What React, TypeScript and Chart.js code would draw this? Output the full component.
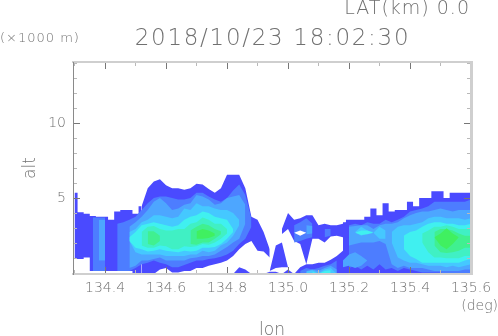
import React, { useEffect, useRef } from "react";
import { Chart, registerables } from "chart.js";

Chart.register(...registerables);

const LON = [
  134.3, 134.32, 134.34, 134.36, 134.38, 134.4, 134.42, 134.44, 134.46, 134.48, 134.5,
  134.52, 134.54, 134.56, 134.58, 134.6, 134.62, 134.64, 134.66, 134.68, 134.7, 134.72,
  134.74, 134.76, 134.78, 134.8, 134.82, 134.84, 134.86, 134.88, 134.9, 134.92, 134.94,
  134.96, 134.98, 135.0, 135.02, 135.04, 135.06, 135.08, 135.1, 135.12, 135.14, 135.16,
  135.18, 135.2, 135.22, 135.24, 135.26, 135.28, 135.3, 135.32, 135.34, 135.36, 135.38,
  135.4, 135.42, 135.44, 135.46, 135.48, 135.5, 135.52, 135.54, 135.56, 135.58, 135.6,
];

const COLORS = ["#4a4aff", "#4d7dff", "#4da6ff", "#45c8ff", "#40f0f0", "#40f0c4", "#40f090", "#40f060", "#ffffff"];

// level 1 (weakest echo)
const L1_BLOCK_TOP = [5.4,4.1,4.0,3.85,3.8,3.8,3.6,4.15,4.25,4.25,4.0,4.5];
const L1_BLOCK_BOT = [1.0,1.0,1.1,0.2,0.2,0.2,0.2,0.2,0.2,0.2,0,0];
const L1_WEST_TOP = [4.5,5.7,6.15,6.3,5.9,5.7,5.7,5.6,5.7,6.0,5.95,5.65,5.4,5.7,6.6,6.6,6.6,5.7,3.8,3.6,2.8,1.65];
const L1_WEST_BOT = [0,0,0,0.3,0.4,0.1,0.1,0.2,0.2,0.4,0.4,0.55,0.65,0.75,0.9,1.2,1.65,2.0,2.2,1.55,1.5,1.1];
const L1_ARM_TOP = [3.0,4.05,3.6,3.7,3.9,3.9,3.25,3.35,3.25,3.25,3.35,3.5];
const L1_ARM_BOT = [2.65,3.0,2.2,2.0,0.65,2.35,2.35,2.1,2.5,2.55,2.45,2.4];
const L1_SPIKE_TOP = [0.2,1.9,2.1,0.45];
const L1_SPIKE_BOT = [0.2,0.4,0.45,0.45];
const L1_TINY_TOP = [0,0.3,0];
const L1_TINY_BOT = [0,0,0];
const L1_FOOT_TOP = [0,0.15,0.15,0];
const L1_FOOT_BOT = [0,0,0,0];
const L1_PATCH_TOP = [0,0.45,0.3,0];
const L1_PATCH_BOT = [0,0,0,0];
const L1_LOW_TOP = [0,0.45,0.65,0.65,0.75,0.75,0.95,1.2,1.55,1.6];
const L1_LOW_BOT = [0,0,0,0,0,0,0,0,0,0];
const L1_EAST_TOP = [3.45,3.6,3.6,3.6,3.8,4.35,3.9,4.7,4.15,4.25,4.25,4.8,4.5,5.05,5.05,5.5,5.5,5.05,5.4,5.4,5.4,5.4];
const L1_EAST_BOT = [0,0,0,0,0,0,0,0,0,0,0,0,0,0,0,0,0,0,0,0,0,0];

// level 2
const L2_BLOCK_TOP = [3.75,3.75,3.75];
const L2_BLOCK_BOT = [0.2,0.2,0.2];
const L2_WEST_TOP = [3.35,3.45,3.6,3.8,4.25,4.7,5.05,5.15,5.15,5.05,4.95,4.95,5.05,5.4,5.4,5.15,4.95,4.8,5.05,5.55,5.95,5.25,3.7];
const L2_WEST_BOT = [0.2,0.2,0.2,0.4,0.65,0.75,0.9,0.75,0.65,0.45,0.45,0.6,0.75,0.9,0.9,1.0,1.05,1.15,1.3,1.55,2.0,2.35,3.15];
const L2_ARM_TOP = [3.25,3.45,3.7,3.35];
const L2_ARM_BOT = [2.1,2.2,2.35,2.45];
const L2_ARM2_TOP = [3.0,3.0];
const L2_ARM2_BOT = [2.45,2.55];
const L2_LOW_TOP = [0.2,0.4,0.3,0.4,0.55,0.65,0.9];
const L2_LOW_BOT = [0,0,0,0,0,0,0];
const L2_EAST_TOP = [3.25,3.35,3.25,3.45,3.35,3.35,3.6,3.45,3.6,3.8,4.15,4.25,4.35,4.5,4.8,4.8,4.8,4.8,4.8,4.8,4.95];
const L2_EAST_BOT = [0.4,0.55,0.3,0.55,0.3,0.65,0.3,0.4,0.2,0.4,0.3,0.2,0.1,0.1,0.1,0.1,0,0,0,0,0];

// level 3
const L3_BAR_TOP = [3.6,3.6];
const L3_BAR_BOT = [0.9,0.9];
const L3_WEST_TOP = [3.15,3.45,3.8,4.25,4.8,5.05,4.7,4.25,4.35,4.6,4.7,5.25,5.15,4.95,4.6,4.7,5.05,5.15,5.25,4.6];
const L3_WEST_BOT = [0.4,0.55,0.9,0.9,1.0,1.1,0.9,0.9,0.9,0.9,1.05,1.1,1.2,1.2,1.3,1.55,1.8,2.1,2.35,3.35];
const L3_ARM_TOP = [3.25,3.2];
const L3_ARM_BOT = [2.65,2.7];
const L3_LOW_TOP = [0.2,0.3,0.2,0.4,0.55,0.3];
const L3_LOW_BOT = [0,0,0,0,0,0];
const L3_EAST_TOP = [3.15,3.2,3.25,3.25,3.0,3.25,3.35,3.35,3.45,3.7,3.9,4.05,4.15,4.15,4.25,4.35,4.25,4.15,4.25,4.25,4.25];
const L3_EAST_BOT = [1.9,2.0,2.1,2.1,2.1,2.2,2.0,0.65,0.4,0.55,0.4,0.4,0.4,0.3,0.2,0.2,0.2,0.2,0.2,0.3,0.3];
const L3_FOOT_TOP = [0.9,1.3,1.45,1.2,0.9];
const L3_FOOT_BOT = [0.45,0.55,0.4,0.55,0.9];

// level 4
const L4_WEST_TOP = [2.8,3.0,3.45,3.6,3.9,3.9,3.8,3.7,3.8,4.35,4.25,4.7,4.5,4.5,4.35,4.25,4.25,4.05,3.6];
const L4_WEST_BOT = [2.2,1.45,1.3,1.3,1.3,1.3,1.2,1.2,1.2,1.2,1.3,1.3,1.55,1.45,1.55,1.9,2.1,2.55,3.25];
const L4_LOW_TOP = [0.15,0.25,0.05,0.3,0.4,0];
const L4_LOW_BOT = [0,0,0,0,0,0];
const L4_BLOB_TOP = [2.8,3.15,2.9,2.8];
const L4_BLOB_BOT = [2.8,2.55,2.7,2.8];
const L4_BLOB2_TOP = [2.75,3.15,2.9];
const L4_BLOB2_BOT = [2.75,2.35,2.35];
const L4_EAST_TOP = [2.8,3.15,3.25,3.25,3.35,3.45,3.7,3.8,3.8,3.7,3.7,3.7,3.6,3.7];
const L4_EAST_BOT = [2.1,1.1,0.9,0.75,0.75,0.65,0.55,0.55,0.55,0.45,0.55,0.45,0.55,0.65];

// level 5
const L5_WEST_TOP = [2.45,2.8,3.25,3.35,3.45,3.35,3.25,3.15,3.25,3.6,3.8,3.9,4.15,4.05,3.8,3.7,3.6,3.0];
const L5_WEST_BOT = [2.2,1.75,1.65,1.5,1.55,1.65,1.55,1.5,1.45,1.55,1.5,1.55,1.75,1.75,1.8,2.0,2.35,2.8];
const L5_LOW_TOP = [0.15,0,0.2,0.25];
const L5_LOW_BOT = [0,0,0,0];
const L5_BLOB_TOP = [2.75,2.9,2.9,2.75];
const L5_BLOB_BOT = [2.75,2.6,2.65,2.75];
const L5_EAST_TOP = [2.55,2.8,2.9,3.15,3.35,3.45,3.45,3.35,3.35,3.25,3.25,3.35];
const L5_EAST_BOT = [1.65,1.2,1.0,0.75,0.75,0.75,0.75,0.75,0.75,0.75,0.9,1.0];

// level 6
const L6_WEST_TOP = [2.8,3.15,3.2,3.0,2.9,2.9,3.0,3.0,3.35,3.45,3.75,3.6,3.35,3.35,3.0];
const L6_WEST_BOT = [1.9,1.75,1.75,1.9,1.85,1.65,1.65,1.85,1.8,1.85,2.0,1.95,2.1,2.35,2.7];
const L6_EAST_TOP = [2.7,2.9,3.15,3.15,3.25,3.15,3.0,3.0,3.0];
const L6_EAST_BOT = [2.1,1.45,1.1,1.1,1.05,1.05,1.05,1.2,1.2];

// level 7
const L7_A_TOP = [2.85,2.85,2.55];
const L7_A_BOT = [2.0,1.9,2.2];
const L7_B_TOP = [2.9,3.15,3.35,3.25,3.0,2.85];
const L7_B_BOT = [2.0,1.95,2.1,2.1,2.35,2.65];
const L7_EAST_TOP = [2.8,3.0,3.0,2.9,2.7,2.55,2.55];
const L7_EAST_BOT = [1.9,1.45,1.4,1.45,1.55,1.75,1.75];

// level 8 (strongest echo)
const L8_WEST_TOP = [2.85,3.0,2.9,2.7];
const L8_WEST_BOT = [2.35,2.35,2.4,2.55];
const L8_EAST_TOP = [2.45,2.7,3.05,2.7,2.45];
const L8_EAST_BOT = [2.45,1.9,1.65,2.0,2.45];

// gap inside the weak echo
const HOLE_TOP = [2.75,2.9,2.75];
const HOLE_BOT = [2.75,2.55,2.75];

type Patch = [number, number, number[], number[], boolean?]; // level, first LON index, top, bottom, blocky
const PATCHES: Patch[] = [
  [0, 0, L1_BLOCK_TOP, L1_BLOCK_BOT, true], [0, 11, L1_WEST_TOP, L1_WEST_BOT], [0, 34, L1_ARM_TOP, L1_ARM_BOT],
  [0, 32, L1_SPIKE_TOP, L1_SPIKE_BOT], [0, 34, L1_TINY_TOP, L1_TINY_BOT], [0, 31, L1_FOOT_TOP, L1_FOOT_BOT],
  [0, 26, L1_PATCH_TOP, L1_PATCH_BOT], [0, 36, L1_LOW_TOP, L1_LOW_BOT], [0, 44, L1_EAST_TOP, L1_EAST_BOT, true],
  [1, 3, L2_BLOCK_TOP, L2_BLOCK_BOT, true], [1, 7, L2_WEST_TOP, L2_WEST_BOT], [1, 36, L2_ARM_TOP, L2_ARM_BOT],
  [1, 41, L2_ARM2_TOP, L2_ARM2_BOT], [1, 37, L2_LOW_TOP, L2_LOW_BOT], [1, 45, L2_EAST_TOP, L2_EAST_BOT],
  [2, 4, L3_BAR_TOP, L3_BAR_BOT, true], [2, 9, L3_WEST_TOP, L3_WEST_BOT], [2, 38, L3_ARM_TOP, L3_ARM_BOT],
  [2, 38, L3_LOW_TOP, L3_LOW_BOT], [2, 45, L3_EAST_TOP, L3_EAST_BOT], [2, 44, L3_FOOT_TOP, L3_FOOT_BOT],
  [3, 9, L4_WEST_TOP, L4_WEST_BOT], [3, 38, L4_LOW_TOP, L4_LOW_BOT], [3, 46, L4_BLOB_TOP, L4_BLOB_BOT],
  [3, 49, L4_BLOB2_TOP, L4_BLOB2_BOT], [3, 52, L4_EAST_TOP, L4_EAST_BOT],
  [4, 9, L5_WEST_TOP, L5_WEST_BOT], [4, 39, L5_LOW_TOP, L5_LOW_BOT], [4, 46, L5_BLOB_TOP, L5_BLOB_BOT],
  [4, 54, L5_EAST_TOP, L5_EAST_BOT],
  [5, 11, L6_WEST_TOP, L6_WEST_BOT], [5, 57, L6_EAST_TOP, L6_EAST_BOT],
  [6, 12, L7_A_TOP, L7_A_BOT], [6, 19, L7_B_TOP, L7_B_BOT], [6, 59, L7_EAST_TOP, L7_EAST_BOT],
  [7, 20, L8_WEST_TOP, L8_WEST_BOT], [7, 59, L8_EAST_TOP, L8_EAST_BOT],
  [8, 36, HOLE_TOP, HOLE_BOT],
];

const TITLE = "2018/10/23 18:02:30";
const X_NAME = "lon";
const Y_NAME = "alt";
const X_MIN = 134.295;
const X_MAX = 135.6;
const Y_MIN = 0;
const Y_MAX = 14.1;
const TEXT = "#707070";
const LIGHT = "#cfcfcf";
const DARK = "#8a8a8a";
const MAJOR = "#777777";
const MINOR = "#b9b9b9";
const FONT = '"DejaVu Sans ExtraLight", "DejaVu Sans"';
const WEIGHT = "200";

// text, x, y, font size, align, letter spacing
const NOTES: [string, number, number, number, string, number][] = [
  [TITLE, 272.5, 39, 23, "center", 1.7],
  ["LAT(km) 0.0", 470, 9.5, 19, "right", 1],
  ["(\u00d71000 m)", 0, 39, 13, "left", 1],
  ["(deg)", 498, 306.5, 14, "right", 0],
];

function pick(a: number[], start: number) {
  return a.map((y, k) => ({ x: LON[start + k], y }));
}

function edgeAxis(position: string, min: number, max: number, step: number, len: number, horizontal: boolean, color: string, width: number, tick: string, z: number) {
  return {
    type: "linear", position, min, max, weight: 0,
    afterFit: (s: any) => {
      if (horizontal) s.height = 0; else s.width = 0;
      s.paddingLeft = s.paddingRight = s.paddingTop = s.paddingBottom = 0;
    },
    border: { color, width, z: 3 },
    grid: { drawOnChartArea: false, drawTicks: true, tickLength: len, tickColor: tick, tickWidth: 1, z },
    ticks: { stepSize: step, includeBounds: false, autoSkip: false, maxRotation: 0, callback: () => "", display: false },
  };
}

export default function App() {
  const ref = useRef<HTMLCanvasElement>(null);
  useEffect(() => {
    document.body.style.margin = "0";
    const datasets: any[] = [];
    PATCHES.forEach(([level, start, top, bot, blocky]) => {
      const stepped = blocky ? "middle" : false;
      datasets.push({
        data: pick(top, start), fill: "+1", backgroundColor: COLORS[level], borderWidth: 0,
        pointRadius: 0, stepped, order: 100 - level,
      });
      datasets.push({
        data: pick(bot, start), fill: false, borderWidth: 0,
        pointRadius: 0, stepped, order: 100 - level,
      });
    });
    const notes = {
      id: "notes",
      afterDraw(c: any) {
        const g = c.ctx;
        g.save();
        g.fillStyle = TEXT;
        g.textBaseline = "middle";
        NOTES.forEach(([t, x, y, size, align, spacing]) => {
          g.font = `${WEIGHT} ${size}px ${FONT}`;
          g.letterSpacing = `${spacing}px`;
          g.textAlign = align;
          g.fillText(t, x, y);
        });
        g.restore();
      },
    };
    const chart = new Chart(ref.current!, {
      type: "line",
      data: { datasets },
      plugins: [notes],
      options: {
        animation: false,
        responsive: false,
        devicePixelRatio: 1,
        layout: { padding: { top: 62, right: 27, left: 0, bottom: 0 } },
        plugins: {
          legend: { display: false },
          tooltip: { enabled: false },
          title: { display: false },
        },
        scales: {
          x: {
            type: "linear", position: "bottom", min: X_MIN, max: X_MAX, weight: 10,
            afterFit: (s: any) => { s.height = 62; s.paddingLeft = 0; s.paddingRight = 0; },
            border: { color: LIGHT, width: 2, z: 3 },
            grid: { drawOnChartArea: false, tickLength: -7, tickColor: MAJOR, z: 2 },
            ticks: {
              stepSize: 0.2, includeBounds: false, autoSkip: false, maxRotation: 0, padding: 13,
              color: TEXT, font: { family: FONT, size: 14, weight: WEIGHT },
              callback: (v: any) => Number(v).toFixed(1),
            },
            title: { display: true, text: X_NAME, color: TEXT, padding: { top: 14, bottom: -5 }, font: { family: FONT, size: 17, weight: WEIGHT } },
          },
          x2: edgeAxis("bottom", X_MIN, X_MAX, 0.1, -4, true, LIGHT, 2, MINOR, 1),
          xt: edgeAxis("top", X_MIN, X_MAX, 0.2, -7, true, LIGHT, 2, MAJOR, 2),
          xt2: edgeAxis("top", X_MIN, X_MAX, 0.1, -4, true, LIGHT, 2, MINOR, 1),
          y: {
            type: "linear", position: "left", min: Y_MIN, max: Y_MAX, weight: 10,
            afterFit: (s: any) => { s.width = 73; s.paddingTop = 0; s.paddingBottom = 0; },
            border: { color: DARK, width: 1, z: 3 },
            grid: { drawOnChartArea: false, tickLength: -7, tickColor: MAJOR, z: 2 },
            ticks: {
              stepSize: 5, includeBounds: false, autoSkip: false, padding: 14,
              color: TEXT, font: { family: FONT, size: 14, weight: WEIGHT },
              callback: (v: any) => (v === 0 ? "" : String(v)),
            },
            title: { display: true, text: Y_NAME, color: TEXT, padding: { top: 20, bottom: 0 }, font: { family: FONT, size: 17, weight: WEIGHT } },
          },
          y2: edgeAxis("left", Y_MIN, Y_MAX, 1, -4, false, DARK, 1, MINOR, 1),
          yr: edgeAxis("right", Y_MIN, Y_MAX, 5, -7, false, LIGHT, 3, MAJOR, 2),
          yr2: edgeAxis("right", Y_MIN, Y_MAX, 1, -4, false, LIGHT, 3, MINOR, 1),
        },
      } as any,
    });
    return () => chart.destroy();
  }, []);
  return <canvas ref={ref} width={498} height={336} style={{ display: "block", width: 498, height: 336 }} />;
}
